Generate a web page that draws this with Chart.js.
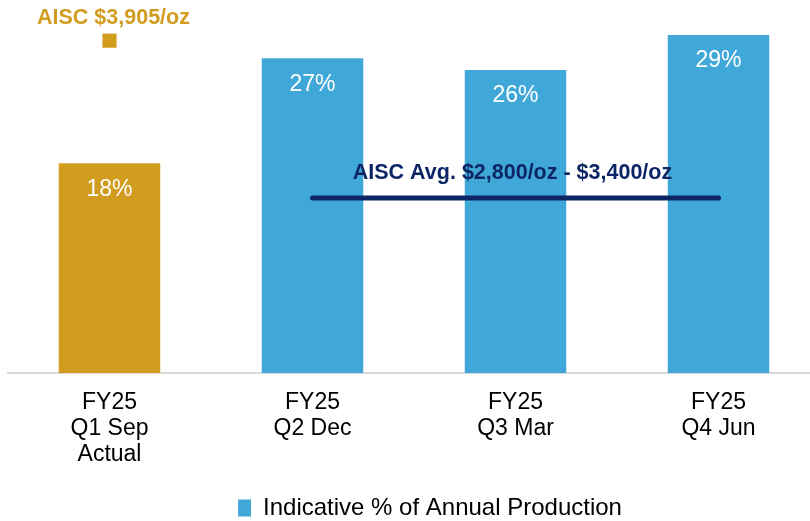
<!DOCTYPE html>
<html>
<head>
<meta charset="utf-8">
<script src="https://cdn.jsdelivr.net/npm/chart.js@4"></script>
<style>
  html, body { margin: 0; padding: 0; background: #fff; overflow: hidden; }
  #myChart { display: block; width: 820px; height: 521px; }
</style>
</head>
<body>
<canvas id="myChart" width="820" height="521"></canvas>
<script>
// данные
var categories = [['FY25', 'Q1 Sep', 'Actual'], ['FY25', 'Q2 Dec'], ['FY25', 'Q3 Mar'], ['FY25', 'Q4 Jun']];
var productionPct = [18, 27, 26, 29];
var aiscActual = [3905, null, null, null];
var aiscAvg = [null, 3100, 3100, 3100];
var aiscActualLabel = 'AISC $3,905/oz';
var aiscAvgLabel = 'AISC Avg. $2,800/oz - $3,400/oz';
var legendLabel = 'Indicative % of Annual Production';

var GOLD = '#D29C1F';
var BLUE = '#40A8D9';
var NAVY = '#0B2565';
var FONT = '"Liberation Sans", Arial, sans-serif';

// подписи на столбцах и над линиями
var labelsPlugin = {
    id: 'labelsPlugin',
    afterLayout: function(chart) {
        // сдвиг легенды вправо, как в оригинале
        chart.legend.left += 16;
        chart.legend.right += 16;
    },
    afterDatasetsDraw: function(chart) {
        var ctx = chart.ctx;
        ctx.save();
        ctx.textAlign = 'center';
        ctx.textBaseline = 'middle';

        var bars = chart.getDatasetMeta(0).data;
        ctx.fillStyle = '#fff';
        ctx.font = '23px ' + FONT;
        bars.forEach(function(bar, i) {
            ctx.fillText(productionPct[i] + '%', bar.x, bar.y + 26);
        });

        ctx.font = 'bold 21.5px ' + FONT;
        var pt = chart.getDatasetMeta(1).data[0];
        ctx.fillStyle = GOLD;
        ctx.fillText(aiscActualLabel, pt.x + 4, pt.y - 23);

        var pts = chart.getDatasetMeta(2).data;
        ctx.fillStyle = NAVY;
        ctx.fillText(aiscAvgLabel, (pts[1].x + pts[3].x) / 2 - 3, pts[1].y - 25);
        ctx.restore();
    }
};

var ctx = document.getElementById('myChart');
var myChart = new Chart(ctx, {
    type: 'bar',
    data: {
        labels: categories,
        datasets: [{
            label: legendLabel,
            data: productionPct,
            backgroundColor: [GOLD, BLUE, BLUE, BLUE],
            barPercentage: 1,
            categoryPercentage: 0.5,
            yAxisID: 'y',
            order: 3
        }, {
            type: 'line',
            label: aiscActualLabel,
            data: aiscActual,
            yAxisID: 'y2',
            showLine: false,
            pointStyle: 'rect',
            pointRadius: 10,
            pointBackgroundColor: GOLD,
            pointBorderColor: GOLD,
            pointBorderWidth: 0,
            order: 1
        }, {
            type: 'line',
            label: aiscAvgLabel,
            data: aiscAvg,
            yAxisID: 'y2',
            borderColor: NAVY,
            borderWidth: 5,
            borderCapStyle: 'round',
            pointRadius: 0,
            order: 2
        }]
    },
    options: {
        responsive: false,
        animation: false,
        layout: { autoPadding: false, padding: { left: 8, right: 0, top: 0, bottom: -9 } },
        scales: {
            x: {
                grid: { display: false },
                border: { color: '#D9D9D9', width: 2 },
                ticks: {
                    color: '#000',
                    padding: 8,
                    font: { family: FONT, size: 23, lineHeight: 1.15 }
                },
                afterFit: function(scale) { scale.height = 119; }
            },
            y: { display: false, min: 0, max: 32 },
            y2: { display: false, min: 2205, max: 4113 }
        },
        plugins: {
            tooltip: { enabled: false },
            legend: {
                position: 'bottom',
                labels: {
                    color: '#000',
                    boxWidth: 13,
                    boxHeight: 17,
                    padding: 4,
                    font: { family: FONT, size: 24 },
                    generateLabels: function() {
                        return [{ text: legendLabel, fillStyle: BLUE, strokeStyle: BLUE, lineWidth: 0, datasetIndex: 0 }];
                    }
                }
            }
        }
    },
    plugins: [labelsPlugin]
});
</script>
</body>
</html>
